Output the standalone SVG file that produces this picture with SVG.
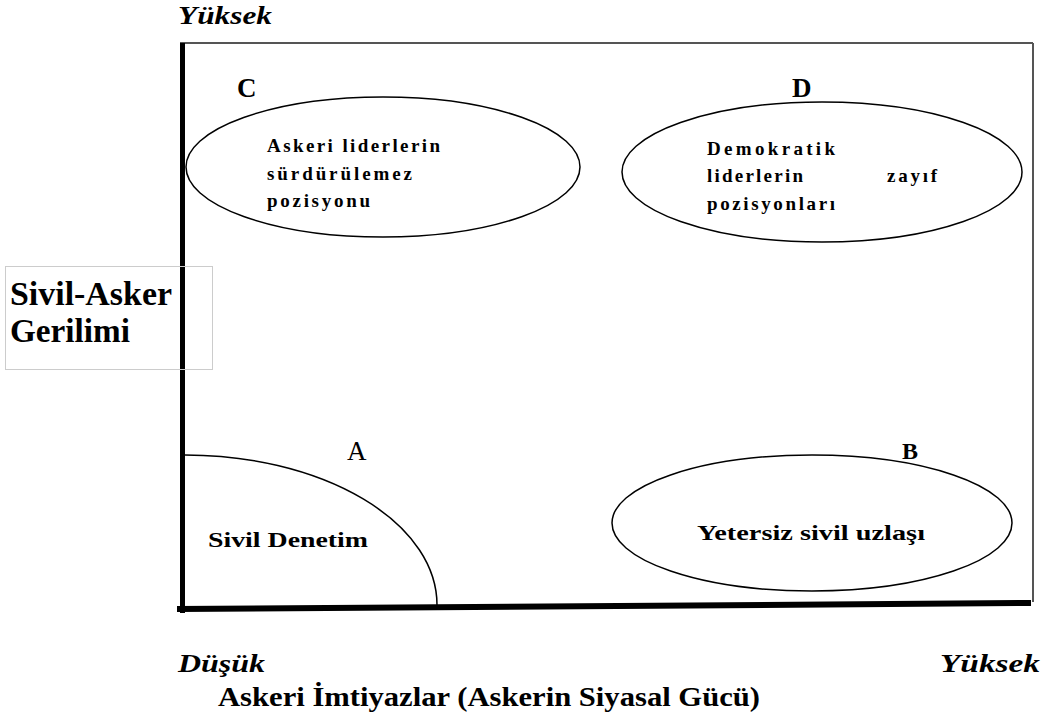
<svg xmlns="http://www.w3.org/2000/svg" width="1048" height="718" viewBox="0 0 1048 718">
<style>
.s{font-family:"Liberation Serif","Times New Roman",serif;fill:#000}
.b{font-weight:bold}
.i{font-style:italic;font-weight:bold}
.sh{fill:none;stroke:#000;stroke-width:1.5}
</style>
<rect width="1048" height="718" fill="#fff"/>
<g id="frame">
<line x1="180" y1="43" x2="1033" y2="43" stroke="#555" stroke-width="2"/>
<line x1="1033" y1="43" x2="1033" y2="602" stroke="#555" stroke-width="2"/>
<rect x="180" y="43" width="5" height="570" fill="#000"/>
<polygon points="177,606 1031,600 1031,606 177,612" fill="#000"/>
</g>
<g id="ylabel">
<rect x="5.5" y="266.5" width="207" height="103" fill="none" stroke="#ccc" stroke-width="1"/>
<text class="s b" x="10" y="305" font-size="33" textLength="162" lengthAdjust="spacingAndGlyphs">Sivil-Asker</text>
<text class="s b" x="10" y="342" font-size="33" textLength="120" lengthAdjust="spacingAndGlyphs">Gerilimi</text>
</g>
<text class="s i" x="178" y="24" font-size="26" textLength="94" lengthAdjust="spacingAndGlyphs">Yüksek</text>
<text class="s i" x="178" y="672" font-size="26" textLength="87" lengthAdjust="spacingAndGlyphs">Düşük</text>
<text class="s i" x="940" y="672" font-size="26" textLength="100" lengthAdjust="spacingAndGlyphs">Yüksek</text>
<text class="s b" x="218" y="706" font-size="27" textLength="542" lengthAdjust="spacingAndGlyphs">Askeri İmtiyazlar (Askerin Siyasal Gücü)</text>
<g id="nodeC">
<ellipse class="sh" cx="383" cy="167" rx="197" ry="70"/>
<text class="s b" x="237" y="97" font-size="27">C</text>
<text class="s b" x="267" y="152" font-size="19" textLength="173" lengthAdjust="spacing">Askeri liderlerin</text>
<text class="s b" x="267" y="180" font-size="19" textLength="145" lengthAdjust="spacing">sürdürülemez</text>
<text class="s b" x="267" y="207" font-size="19" textLength="103" lengthAdjust="spacing">pozisyonu</text>
</g>
<g id="nodeD">
<ellipse class="sh" cx="822" cy="172" rx="200" ry="70"/>
<text class="s b" x="792" y="97" font-size="27">D</text>
<text class="s b" x="707" y="155" font-size="19" textLength="128" lengthAdjust="spacing">Demokratik</text>
<text class="s b" x="707" y="182" font-size="19" textLength="96" lengthAdjust="spacing">liderlerin</text>
<text class="s b" x="887" y="182" font-size="19" textLength="50" lengthAdjust="spacing">zayıf</text>
<text class="s b" x="707" y="210" font-size="19" textLength="128" lengthAdjust="spacing">pozisyonları</text>
</g>
<g id="nodeA">
<path class="sh" d="M185,455 A252,150 0 0 1 437,605"/>
<text class="s" x="347" y="460" font-size="27">A</text>
<text class="s b" x="208" y="547" font-size="21" textLength="160" lengthAdjust="spacingAndGlyphs">Sivil Denetim</text>
</g>
<g id="nodeB">
<ellipse class="sh" cx="812" cy="523" rx="200" ry="68"/>
<text class="s b" x="902" y="459" font-size="24">B</text>
<text class="s b" x="697" y="540" font-size="21" textLength="228" lengthAdjust="spacingAndGlyphs">Yetersiz sivil uzlaşı</text>
</g>
<g id="connectors"></g>
</svg>
